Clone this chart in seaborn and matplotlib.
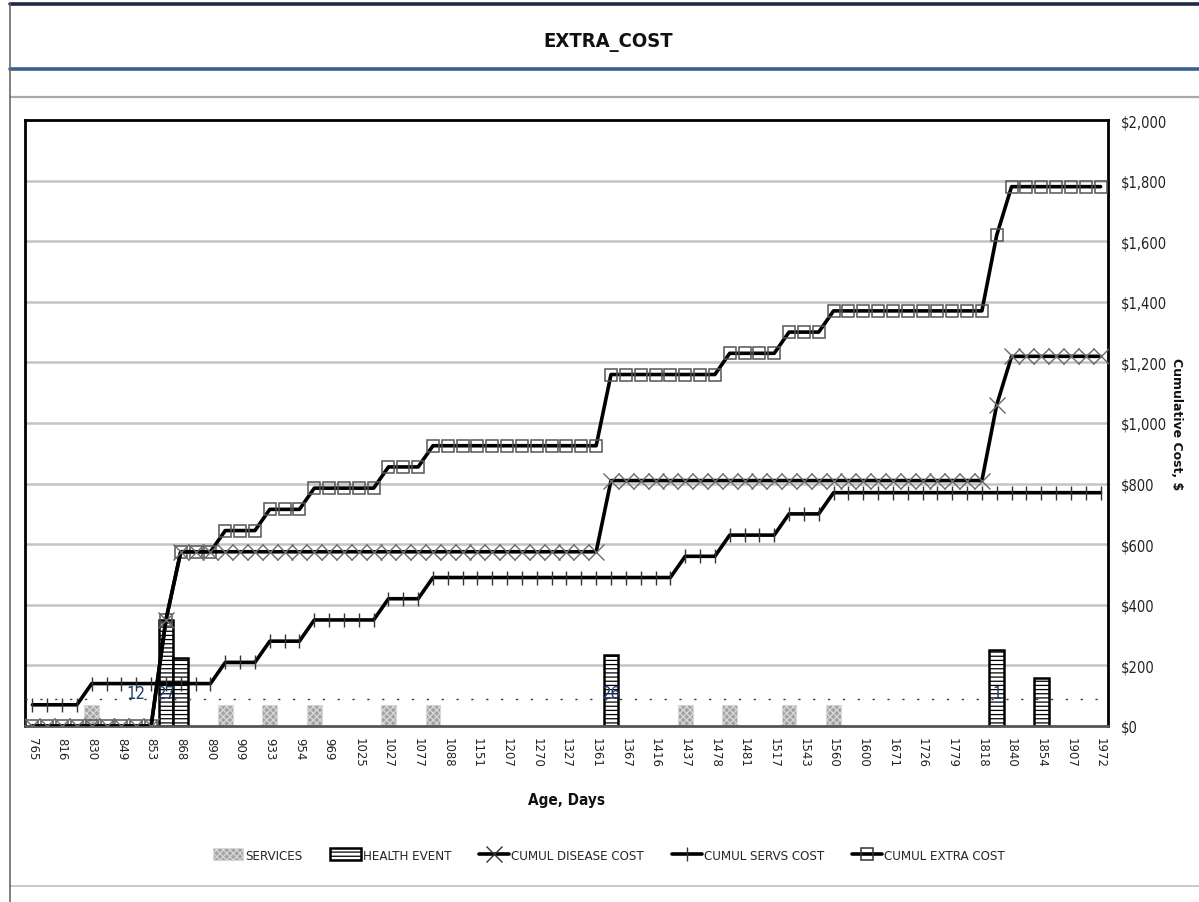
import numpy as np
import matplotlib
matplotlib.use("Agg")
import matplotlib.pyplot as plt
import seaborn as sns
from matplotlib.lines import Line2D
from matplotlib.patches import Patch

# Age in days for every reporting point (only every other one is labelled)
ages = [765, 790, 816, 823, 830, 840, 849, 851, 853, 860,
        868, 879, 890, 900, 909, 921, 933, 944, 954, 961,
        969, 997, 1025, 1026, 1027, 1052, 1077, 1082, 1088, 1120,
        1151, 1179, 1207, 1238, 1270, 1298, 1327, 1344, 1361, 1364,
        1367, 1391, 1416, 1426, 1437, 1457, 1478, 1479, 1481, 1499,
        1517, 1530, 1543, 1551, 1560, 1580, 1600, 1635, 1671, 1698,
        1726, 1752, 1779, 1798, 1818, 1829, 1840, 1847, 1854, 1880,
        1907, 1939, 1972]

cumul_disease = ([0] * 9 + [350] + [575] * 29 + [810] * 26 + [1060] + [1220] * 7)
cumul_servs = ([70] * 4 + [140] * 9 + [210] * 3 + [280] * 3 + [350] * 5 + [420] * 3
               + [490] * 17 + [560] * 3 + [630] * 4 + [700] * 3 + [770] * 19)
cumul_extra = ([0] * 9 + [350] + [575] * 3 + [645] * 3 + [715] * 3 + [785] * 5
               + [855] * 3 + [925] * 12 + [1160] * 8 + [1230] * 4 + [1300] * 3
               + [1370] * 11 + [1620] + [1780] * 7)

service_ages = [830, 900, 933, 961, 1027, 1082, 1437, 1479, 1530, 1560]
service_cost = [70, 70, 70, 70, 70, 70, 70, 70, 70, 70]

event_ages = [860, 868, 1364, 1829, 1854]
event_cost = [350, 225, 235, 250, 160]

event_label_ages = [851, 860, 1364, 1829]
event_label_text = ["12", "27", "26", "1"]
event_label_y = 110
threshold = 90

y_ticks = [0, 200, 400, 600, 800, 1000, 1200, 1400, 1600, 1800, 2000]

sns.set_theme(style="white")
plt.rcParams["font.family"] = ["DejaVu Sans"]
plt.rcParams["font.stretch"] = "condensed"
plt.rcParams["hatch.linewidth"] = 0.9

W, H = 1199, 903
fig = plt.figure(figsize=(W / 100, H / 100), dpi=100)
fig.patch.set_facecolor("white")
ax = fig.add_axes([25 / W, 1 - 727 / H, (1108 - 25) / W, (727 - 121) / H])

order = [str(a) for a in ages]
pos = np.arange(len(ages))
pos_of = {a: i for i, a in enumerate(ages)}

# gridlines
for v in y_ticks[1:-1]:
    ax.axhline(v, color="#c4c4c4", lw=1.8, zorder=0)

# bars
sns.barplot(x=[str(a) for a in service_ages], y=service_cost, order=order, ax=ax,
            color="#a3a3a3", edgecolor="#d8d8d8", hatch="xxxxx", linewidth=0.8,
            width=1.0, errorbar=None, saturation=1, zorder=2)
sns.barplot(x=[str(a) for a in event_ages], y=event_cost, order=order, ax=ax,
            color="white", edgecolor="black", hatch="----", linewidth=1.8,
            width=1.0, errorbar=None, saturation=1, zorder=2)

# dotted reference level
ax.axhline(threshold, color="#3a3a3a", lw=1.0, ls=(0, (1.6, 9.1)), zorder=3)

for a, t in zip(event_label_ages, event_label_text):
    ax.text(pos_of[a], event_label_y, t, ha="center", va="center", fontsize=12,
            color="#1f3b70", zorder=3)

# cumulative lines
sns.lineplot(x=pos, y=cumul_extra, ax=ax, color="black", lw=2.6, marker="s",
             markersize=9, markerfacecolor="none", markeredgecolor="#555555",
             markeredgewidth=1.1, zorder=5)
sns.lineplot(x=pos, y=cumul_disease, ax=ax, color="black", lw=2.6, marker="x",
             markersize=12, markeredgecolor="#6a6a6a", markeredgewidth=1.0, zorder=5)
sns.lineplot(x=pos, y=cumul_servs, ax=ax, color="black", lw=2.6, marker="|",
             markersize=10, markeredgecolor="#333333", markeredgewidth=1.0, zorder=5)

ax.set_xlim(-0.5, len(ages) - 0.5)
ax.set_ylim(0, 2000)
ax.set_xticks(pos[::2])
ax.set_xticklabels(order[::2], rotation=270, fontsize=8.5, fontstretch="normal",
                   color="#222222")
ax.tick_params(axis="x", length=0, pad=8)
ax.yaxis.tick_right()
ax.set_yticks(y_ticks)
ax.set_yticklabels([f"${v:,.0f}" for v in y_ticks], fontsize=10.5, color="#222222")
ax.tick_params(axis="y", length=0, pad=9)
ax.yaxis.set_label_position("right")
ax.set_ylabel("Cumulative Cost, $", rotation=270, fontsize=9, fontweight="bold",
              fontstretch="normal", labelpad=12, color="#111111")
ax.set_xlabel("Age, Days", fontsize=11, fontweight="bold", labelpad=18, color="#111111")
ax.grid(False)
for side in ["left", "top", "right"]:
    ax.spines[side].set_color("black")
    ax.spines[side].set_linewidth(2.0)
ax.spines["bottom"].set_color("#555555")
ax.spines["bottom"].set_linewidth(2.0)

# legend
handles = [
    Patch(facecolor="#a3a3a3", edgecolor="#d8d8d8", hatch="xxxxx", lw=0.8),
    Patch(facecolor="white", edgecolor="black", hatch="----", lw=1.8),
    Line2D([], [], color="black", lw=2.6, marker="x", markersize=11,
           markeredgecolor="#333333", markeredgewidth=1.0),
    Line2D([], [], color="black", lw=2.6, marker="|", markersize=10,
           markeredgecolor="#333333", markeredgewidth=1.0),
    Line2D([], [], color="black", lw=2.6, marker="s", markersize=9,
           markerfacecolor="none", markeredgecolor="#333333", markeredgewidth=1.1),
]
labels = ["SERVICES", "HEALTH EVENT", "CUMUL DISEASE COST", "CUMUL SERVS COST",
          "CUMUL EXTRA COST"]
fig.legend(handles, labels, loc="center", bbox_to_anchor=(0.508, 1 - 856 / H),
           ncol=5, frameon=False, handlelength=2.3, handleheight=1.0,
           handletextpad=0.15, columnspacing=2.1,
           prop={"stretch": "condensed", "size": 9.5})

# page frame and title band
def hline(y, x0, x1, color, lw):
    fig.add_artist(Line2D([x0 / W, x1 / W], [1 - y / H, 1 - y / H], color=color,
                          lw=lw, transform=fig.transFigure))

hline(5, 10, W, "#1c2a44", 2.6)
hline(70, 10, W, "#3a5f91", 2.6)
hline(98, 10, W, "#a8a8a8", 1.6)
hline(887, 10, W, "#c8c8c8", 1.4)
fig.add_artist(Line2D([10 / W, 10 / W], [0, 1 - 5 / H], color="#6a6a6a", lw=1.2,
                      transform=fig.transFigure))
fig.text(0.507, 1 - 42 / H, "EXTRA_COST", ha="center", va="center", fontsize=14.5,
         fontweight="bold", color="#111111")

fig.savefig("out.png", dpi=100, facecolor="white")
